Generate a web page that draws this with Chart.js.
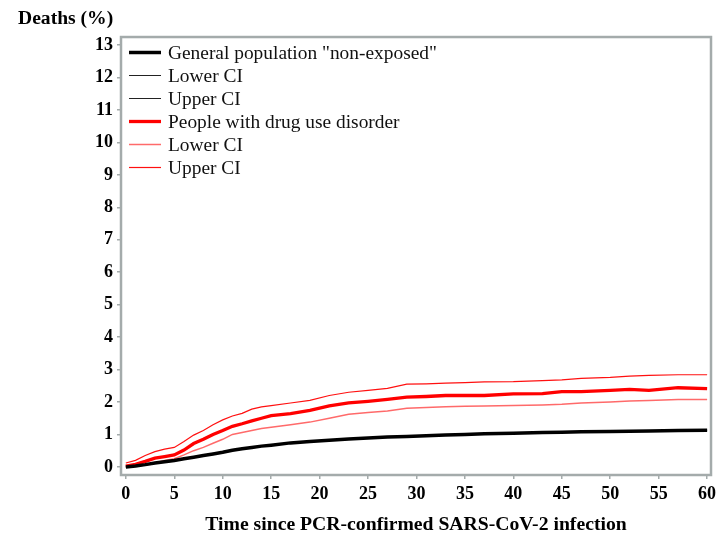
<!DOCTYPE html>
<html>
<head>
<meta charset="utf-8">
<script src="https://cdn.jsdelivr.net/npm/chart.js@4.4.1/dist/chart.umd.min.js"></script>
<style>
    html, body { margin: 0; padding: 0; background: #fff; }
    #wrap { width: 718px; height: 541px; }
</style>
</head>
<body>
<div id="wrap"><canvas id="deathsChart"></canvas></div>
<script>
const days = [0, 1, 2, 3, 4, 5, 6, 7, 8, 9, 10, 11, 12, 13, 14, 15, 17, 19, 21, 23, 25, 27, 29, 31, 33, 35, 37, 40, 43, 45, 47, 50, 52, 54, 57, 60];

// General population "non-exposed"
const genPop = [0, 0.03, 0.07, 0.12, 0.16, 0.2, 0.25, 0.3, 0.35, 0.4, 0.45, 0.51, 0.56, 0.6, 0.64, 0.67, 0.74, 0.78, 0.82, 0.86, 0.89, 0.92, 0.94, 0.96, 0.98, 1.0, 1.02, 1.04, 1.06, 1.07, 1.08, 1.09, 1.1, 1.11, 1.12, 1.13];
const genLower = [0, 0.02, 0.06, 0.11, 0.15, 0.19, 0.24, 0.29, 0.34, 0.39, 0.44, 0.5, 0.55, 0.59, 0.63, 0.66, 0.73, 0.77, 0.81, 0.85, 0.88, 0.91, 0.93, 0.95, 0.97, 0.99, 1.01, 1.03, 1.05, 1.06, 1.07, 1.08, 1.09, 1.1, 1.11, 1.12];
const genUpper = [0, 0.04, 0.08, 0.13, 0.17, 0.21, 0.26, 0.31, 0.36, 0.41, 0.46, 0.52, 0.57, 0.61, 0.65, 0.68, 0.75, 0.79, 0.83, 0.87, 0.9, 0.93, 0.95, 0.97, 0.99, 1.01, 1.03, 1.05, 1.07, 1.08, 1.09, 1.1, 1.11, 1.12, 1.13, 1.14];

// People with drug use disorder
const dud = [0.02, 0.08, 0.17, 0.27, 0.32, 0.37, 0.52, 0.72, 0.85, 1.0, 1.12, 1.25, 1.33, 1.42, 1.5, 1.58, 1.64, 1.74, 1.88, 1.97, 2.02, 2.08, 2.15, 2.17, 2.2, 2.2, 2.2, 2.25, 2.26, 2.32, 2.32, 2.36, 2.39, 2.36, 2.44, 2.41];
const dudLower = [0, 0.03, 0.06, 0.12, 0.2, 0.25, 0.37, 0.5, 0.6, 0.73, 0.85, 1.0, 1.06, 1.12, 1.18, 1.22, 1.3, 1.38, 1.5, 1.62, 1.68, 1.72, 1.81, 1.83, 1.85, 1.87, 1.88, 1.89, 1.91, 1.93, 1.97, 2.0, 2.03, 2.05, 2.08, 2.08];
const dudUpper = [0.12, 0.2, 0.35, 0.47, 0.55, 0.6, 0.78, 0.98, 1.12, 1.3, 1.45, 1.57, 1.65, 1.78, 1.85, 1.89, 1.97, 2.05, 2.2, 2.3, 2.36, 2.42, 2.55, 2.56, 2.58, 2.6, 2.62, 2.63, 2.66, 2.68, 2.73, 2.76, 2.8, 2.82, 2.84, 2.84];

const xTicks = [0, 5, 10, 15, 20, 25, 30, 35, 40, 45, 50, 55, 60];
const yTicks = [0, 1, 2, 3, 4, 5, 6, 7, 8, 9, 10, 11, 12, 13];

const serif = "'Liberation Serif', 'Times New Roman', serif";
const frameGray = '#a4abab';

function pts(values) {
    return values.map((v, i) => ({ x: days[i], y: v }));
}

// Grey frame round the plot area
const framePlugin = {
    id: 'frame',
    afterDatasetsDraw(chart) {
        const { ctx, chartArea } = chart;
        ctx.save();
        ctx.strokeStyle = frameGray;
        ctx.lineWidth = 2.5;
        ctx.strokeRect(chartArea.left, chartArea.top, chartArea.right - chartArea.left, chartArea.bottom - chartArea.top);
        ctx.restore();
    }
};

// Legend inside the top-left corner of the plot
const insideLegend = {
    id: 'insideLegend',
    afterDraw(chart) {
        const { ctx, chartArea } = chart;
        ctx.save();
        ctx.font = '19.4px ' + serif;
        ctx.textBaseline = 'middle';
        chart.data.datasets.forEach((ds, i) => {
            const y = Math.round(chartArea.top + 15 + i * 23) + 0.5;
            ctx.strokeStyle = ds.borderColor;
            ctx.lineWidth = ds.borderWidth;
            ctx.beginPath();
            ctx.moveTo(chartArea.left + 8, y);
            ctx.lineTo(chartArea.left + 40, y);
            ctx.stroke();
            ctx.fillStyle = '#111';
            ctx.fillText(ds.label, chartArea.left + 47, y + 1);
        });
        ctx.restore();
    }
};

document.addEventListener('DOMContentLoaded', () => {
    const ctx = document.getElementById('deathsChart').getContext('2d');

    new Chart(ctx, {
        type: 'line',
        data: {
            datasets: [
                { label: 'General population "non-exposed"', data: pts(genPop), borderColor: '#000000', borderWidth: 3.5 },
                { label: 'Lower CI', data: pts(genLower), borderColor: '#222222', borderWidth: 1 },
                { label: 'Upper CI', data: pts(genUpper), borderColor: '#222222', borderWidth: 1 },
                { label: 'People with drug use disorder', data: pts(dud), borderColor: '#ff0000', borderWidth: 3.3 },
                { label: 'Lower CI', data: pts(dudLower), borderColor: '#ff6a6a', borderWidth: 1.5 },
                { label: 'Upper CI', data: pts(dudUpper), borderColor: '#ff1010', borderWidth: 1.2 }
            ]
        },
        options: {
            responsive: true,
            maintainAspectRatio: false,
            animation: false,
            elements: {
                point: { radius: 0 },
                line: { tension: 0 }
            },
            layout: { padding: { left: 18, right: 7, top: 0, bottom: 0 } },
            plugins: {
                legend: { display: false },
                tooltip: { enabled: false },
                title: {
                    display: true,
                    text: 'Deaths (%)',
                    align: 'start',
                    color: '#000',
                    font: { family: serif, size: 19.6, weight: 'bold' },
                    padding: { top: 7, bottom: 6.5 }
                }
            },
            scales: {
                x: {
                    type: 'linear',
                    min: -0.5,
                    max: 60.4,
                    afterBuildTicks: scale => { scale.ticks = xTicks.map(v => ({ value: v })); },
                    afterFit: scale => {
                        scale.height = 66;
                        scale.paddingRight = 0;
                    },
                    ticks: {
                        autoSkip: false,
                        maxRotation: 0,
                        padding: 5,
                        color: '#000',
                        font: { family: serif, size: 18, weight: 'bold' }
                    },
                    grid: { drawOnChartArea: false, tickLength: 4, color: frameGray, lineWidth: 1.5 },
                    border: { display: false },
                    title: {
                        display: true,
                        text: 'Time since PCR-confirmed SARS-CoV-2 infection',
                        color: '#000',
                        font: { family: serif, size: 19.7, weight: 'bold' },
                        padding: { top: 4, bottom: 4 }
                    }
                },
                y: {
                    min: -0.25,
                    max: 13.25,
                    afterBuildTicks: scale => { scale.ticks = yTicks.map(v => ({ value: v })); },
                    afterFit: scale => { scale.width = 103; },
                    ticks: {
                        padding: 4,
                        color: '#000',
                        font: { family: serif, size: 18, weight: 'bold' }
                    },
                    grid: { drawOnChartArea: false, tickLength: 4, color: frameGray, lineWidth: 1.5 },
                    border: { display: false }
                }
            }
        },
        plugins: [framePlugin, insideLegend]
    });
});
</script>
</body>
</html>
